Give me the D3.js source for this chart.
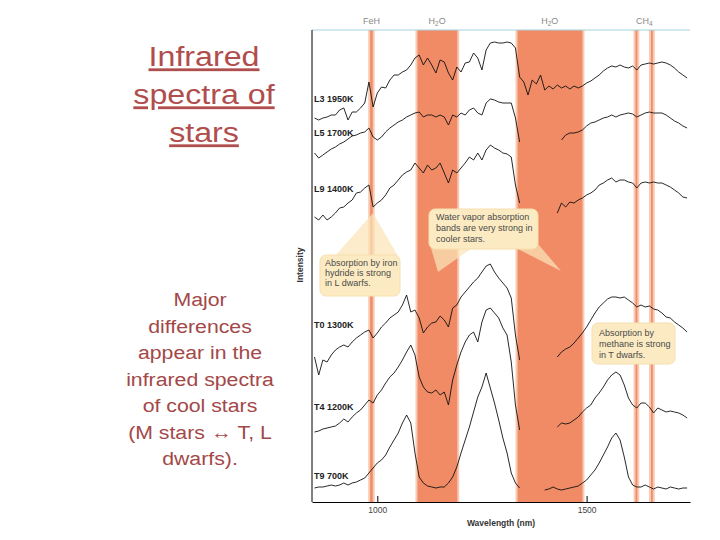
<!DOCTYPE html>
<html><head><meta charset="utf-8">
<script src="https://cdn.jsdelivr.net/npm/d3@7"></script>
<style>body{margin:0;background:#fff}svg{display:block;font-family:"Liberation Sans",Arial,sans-serif}</style>
</head><body>
<svg id="c" width="720" height="540"></svg>
<script>
// ---------- data ----------
const wavelengths = [850,860,870,880,890,900,910,920,930,940,
 950,960,970,980,990,1000,1010,1020,1030,1040,
 1050,1060,1070,1080,1090,1100,1110,1120,1130,1140,
 1150,1160,1170,1180,1190,1200,1210,1220,1230,1240,
 1250,1260,1270,1280,1290,1300,1310,1320,1330,1340,
 1350,1360,1370,1380,1390,1400,1410,1420,1430,1440,
 1450,1460,1470,1480,1490,1500,1510,1520,1530,1540,
 1550,1560,1570,1580,1590,1600,1610,1620,1630,1640,
 1650,1660,1670,1680,1690,1700,1710,1720,1730,1740];

const L3 = [384,382,384,385,387,387,392,394,382,390,
 390,394,399,420,395,409,415,414,422,427,
 427,430,432,437,444,447,437,444,437,429,
 442,440,429,422,435,430,439,440,449,444,
 432,452,459,460,459,459,460,459,454,425,
 420,407,422,418,427,412,416,413,417,414,
 416,413,416,414,416,419,421,424,427,431,
 434,436,435,437,435,434,436,432,437,438,
 439,438,439,440,439,437,434,430,427,424];

const L5 = [349,344,347,350,353,355,358,360,363,366,
 367,369,370,374,365,362,365,370,374,377,
 380,382,385,387,389,390,385,387,387,385,
 387,385,377,387,385,389,387,392,394,389,
 387,399,403,402,400,399,399,399,384,360,
 null,null,null,null,null,null,null,null,null,362,
 367,369,369,370,372,376,379,380,382,384,
 385,387,385,387,388,389,388,385,387,389,
 390,389,389,389,387,384,381,379,376,374];

const L9 = [285,282,287,282,285,289,294,295,299,302,
 309,310,314,317,295,299,302,307,314,317,
 322,327,330,332,339,334,329,337,332,334,
 339,329,319,332,329,334,339,345,342,349,
 342,352,357,354,352,349,348,345,317,299,
 null,null,null,null,null,null,null,null,289,299,
 295,300,299,302,304,307,309,312,317,319,
 322,324,320,322,322,320,319,314,319,320,
 319,320,319,319,317,315,312,309,305,304];

const T0 = [145,127,142,140,147,152,155,157,155,160,
 164,167,170,172,164,169,175,179,184,187,
 190,197,207,190,192,184,169,175,179,180,
 186,182,175,194,197,205,210,215,220,224,
 230,236,238,230,224,219,214,204,167,142,
 null,null,null,null,null,null,null,null,145,150,
 153,155,159,164,169,175,182,189,195,199,
 203,205,205,204,205,202,199,195,197,195,
 196,193,192,189,185,184,180,177,174,170];

const T4 = [70,71,73,74,75,76,79,83,80,85,
 89,92,97,102,99,107,112,119,125,129,
 135,142,150,157,147,125,115,110,109,112,
 107,110,97,122,137,150,160,167,170,160,
 180,192,194,189,184,174,167,140,97,72,
 null,null,null,null,null,null,null,null,75,79,
 78,79,82,85,90,94,97,104,109,115,
 122,127,130,127,117,104,97,94,99,99,
 95,89,94,92,90,91,90,89,87,84];

const T9 = [14,15,15,16,17,16,17,19,17,19,
 20,22,24,29,34,39,42,47,55,62,
 69,79,87,79,49,25,19,16,15,14,
 15,15,19,25,35,49,62,75,90,105,
 115,129,114,99,82,64,49,29,19,14,
 null,null,null,null,null,12,13,15,13,12,
 13,14,15,16,19,22,27,32,39,47,
 55,64,69,62,45,25,17,15,15,17,
 15,13,15,14,13,15,14,13,14,14];

const seriesNames = ["L3 1950K","L5 1700K","L9 1400K","T0 1300K","T4 1200K","T9 700K"];
const seriesValues = [L3, L5, L9, T0, T4, T9];

const bandFrom = [983, 1096, 1335, 1617, 1654];
const bandTo   = [989, 1191, 1490, 1621, 1658];
const featureLabels = ["FeH", "H2O", "H2O", "CH4"];
const featureAt = [986, 1143, 1412, 1638];
const xTicks = [1000, 1500];

const titleLines = ["Infrared", "spectra of", "stars"];
const bodyLines = ["Major", "differences", "appear in the", "infrared spectra", "of cool stars", "(M stars \u2194 T, L", "dwarfs)."];
const noteWater = ["Water vapor absorption", "bands are very strong in", "cooler stars."];
const noteIron = ["Absorption by iron", "hydride is strong", "in L dwarfs."];
const noteMethane = ["Absorption by", "methane is strong", "in T dwarfs."];

// ---------- layout ----------
const svg = d3.select("#c");
const plotL = 312, plotR = 690, plotT = 30, plotB = 502;
const x = d3.scaleLinear().domain([844, 1747]).range([plotL, plotR]);
const y = d3.scaleLinear().domain([0, 472]).range([plotB, plotT]);

// left-hand slide text
const tg = svg.append("g").attr("transform", "translate(204,0) scale(1.15,1)");
titleLines.forEach((t, i) => {
  tg.append("text").attr("x", 0).attr("y", 66.5 + i * 38)
    .attr("text-anchor", "middle").attr("font-size", 28)
    .attr("fill", "#b04e4e").style("text-decoration", "underline").text(t);
});
const bg = svg.append("g").attr("transform", "translate(200,0) scale(1.12,1)");
bodyLines.forEach((t, i) => {
  bg.append("text").attr("x", 0).attr("y", 306.5 + i * 26.5)
    .attr("text-anchor", "middle").attr("font-size", 19)
    .attr("fill", "#a34848").text(t);
});

// bands
const bands = bandFrom.map((f, i) => ({ f, t: bandTo[i] }));
svg.append("g").selectAll("rect.halo").data(bands).join("rect")
  .attr("x", d => x(d.f) - 2).attr("width", d => x(d.t) - x(d.f) + 4)
  .attr("y", plotT).attr("height", plotB - plotT).attr("fill", "#f9c9b4");
svg.append("g").selectAll("rect.core").data(bands).join("rect")
  .attr("x", d => x(d.f)).attr("width", d => x(d.t) - x(d.f))
  .attr("y", plotT).attr("height", plotB - plotT).attr("fill", "#f08b66");

// top line and feature labels
svg.append("line").attr("x1", plotL).attr("x2", plotR).attr("y1", plotT).attr("y2", plotT)
  .attr("stroke", "#a6d2dc").attr("stroke-width", 1.2);
featureLabels.forEach((lab, i) => {
  const t = svg.append("text").attr("x", x(featureAt[i])).attr("y", 24)
    .attr("text-anchor", "middle").attr("font-size", 9).attr("fill", "#8a8a8a");
  let prevDigit = false;
  for (const ch of lab) {
    const isDigit = /[0-9]/.test(ch);
    const s = t.append("tspan").text(ch);
    if (isDigit) s.attr("font-size", 6.5).attr("dy", 2);
    else if (prevDigit) s.attr("dy", -2);
    prevDigit = isDigit;
  }
});

// spectra
const line = d3.line().defined(d => d[1] != null)
  .x(d => x(d[0])).y(d => y(d[1]));
seriesValues.forEach(vals => {
  svg.append("path").datum(wavelengths.map((w, i) => [w, vals[i]]))
    .attr("d", line).attr("fill", "none").attr("stroke", "#111").attr("stroke-width", 0.9)
    .attr("stroke-linejoin", "round");
});

// series labels
const labelY = [102, 136, 191.5, 328, 410, 479];
seriesNames.forEach((n, i) => {
  svg.append("text").attr("x", 314).attr("y", labelY[i]).attr("font-size", 9)
    .attr("font-weight", "bold").attr("fill", "#222").text(n);
});

// callout wedges
const wedges = [
  [[335, 256], [373, 213], [398, 256]],
  [[431, 248], [472, 248], [438, 272]],
  [[516, 248], [538, 244], [561, 271]]
];
svg.append("g").selectAll("path").data(wedges).join("path")
  .attr("d", d => "M" + d.join("L") + "Z")
  .attr("fill", "#fbe5b8").attr("opacity", 0.72);

// callout boxes
const boxes = [
  { x: 429, y: 209, w: 109, h: 40, lines: noteWater, tx: 436, ty: 220, lh: 11 },
  { x: 320, y: 255, w: 80, h: 41, lines: noteIron, tx: 325, ty: 265.5, lh: 10 },
  { x: 592, y: 323, w: 83, h: 41, lines: noteMethane, tx: 599, ty: 336, lh: 11 }
];
boxes.forEach(b => {
  svg.append("rect").attr("x", b.x).attr("y", b.y).attr("width", b.w).attr("height", b.h)
    .attr("rx", 6).attr("fill", "#fcebc2").attr("stroke", "#f6dfae").attr("stroke-width", 1);
  b.lines.forEach((t, i) => {
    svg.append("text").attr("x", b.tx).attr("y", b.ty + i * b.lh)
      .attr("font-size", 9).attr("fill", "#4a4a4a").text(t);
  });
});

// axes
svg.append("line").attr("x1", plotL).attr("x2", plotL).attr("y1", plotT).attr("y2", plotB)
  .attr("stroke", "#000").attr("stroke-width", 1);
const ax = svg.append("g").attr("transform", `translate(0,${plotB})`)
  .call(d3.axisBottom(x).tickValues(xTicks).tickFormat(d3.format("d"))
    .tickSize(-6).tickSizeOuter(0).tickPadding(5));
ax.select(".domain").attr("stroke", "#000");
ax.selectAll(".tick line").attr("stroke", "#000");
ax.selectAll(".tick text").attr("font-size", 8.5).attr("fill", "#444")
  .attr("font-family", "Liberation Sans, Arial, sans-serif");
svg.append("text").attr("x", 501).attr("y", 526).attr("text-anchor", "middle")
  .attr("font-size", 8.5).attr("font-weight", "bold").attr("fill", "#333").text("Wavelength (nm)");
svg.append("text").attr("transform", "translate(303,265) rotate(-90)").attr("text-anchor", "middle")
  .attr("font-size", 8.5).attr("font-weight", "bold").attr("fill", "#333").text("Intensity");
</script>
</body></html>
